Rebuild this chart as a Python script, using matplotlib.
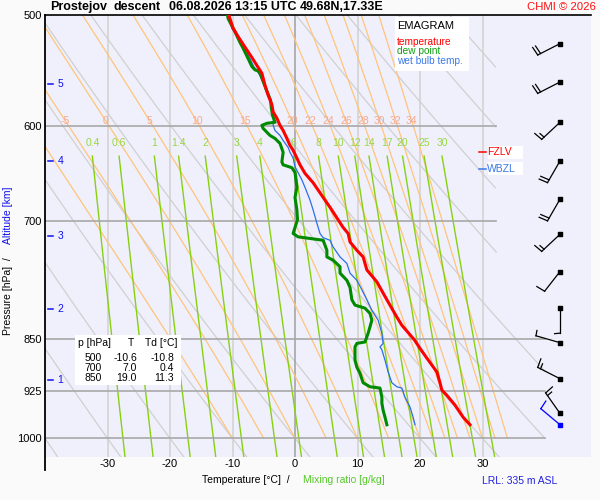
import numpy as np
import matplotlib
matplotlib.use('Agg')
import matplotlib.pyplot as plt
from matplotlib.patches import Rectangle
from matplotlib.lines import Line2D

plt.rcParams['font.family'] = ['Liberation Sans', 'DejaVu Sans']

# sounding (p in hPa, values in degC)
temp_p = [500, 511, 518, 527, 536, 543, 550, 561, 570, 579, 586, 592, 599, 604, 612, 619, 624, 632, 639, 648,
          658, 674, 685, 697, 708, 715, 725, 735, 743, 759, 774, 797, 820, 831, 851, 863, 877, 897, 913, 924,
          932, 947, 966, 978]
temp_t = [-10.6, -9.9, -9.1, -8.0, -6.9, -6.1, -5.3, -4.8, -4.3, -3.7, -3.5, -2.9, -2.4, -1.9, -1.3, -0.8, -0.3, 0.3, 0.8, 1.6,
          2.9, 4.5, 5.6, 6.7, 7.7, 8.5, 8.8, 9.9, 10.9, 11.5, 13.1, 14.7, 16.3, 17.1, 19.1, 20.0, 21.1, 22.7, 23.2, 23.5,
          24.3, 25.6, 26.9, 28.0]

dew_p = [500, 503, 514, 523, 528, 537, 544, 547, 548, 551, 556, 565, 575, 582, 589, 596, 597, 599, 602, 609,
         612, 617, 626, 636, 639, 642, 647, 663, 674, 688, 699, 715, 719, 723, 735, 743, 747, 755, 763, 772,
         781, 797, 804, 808, 815, 824, 833, 842, 854, 856, 861, 880, 890, 899, 913, 919, 921, 935, 944, 955,
         966, 978]
dew_t = [-10.8, -10.7, -9.6, -8.8, -8.3, -7.5, -6.9, -6.4, -5.9, -5.5, -5.2, -4.6, -3.9, -3.8, -3.6, -3.2, -4.5, -5.3, -5.1, -4.0,
         -3.2, -2.4, -1.9, -2.1, -1.9, -0.5, 0.0, 0.3, 0.0, 0.3, 0.4, -0.3, 0.5, 4.5, 5.1, 5.1, 6.1, 7.2, 7.2, 8.3,
         8.8, 9.1, 9.6, 11.2, 12.0, 12.3, 12.0, 11.7, 11.2, 9.9, 9.6, 9.6, 9.9, 10.4, 10.9, 12.0, 13.6, 13.9, 13.9, 14.1,
         14.4, 14.7]

wet_p = [500, 511, 519, 527, 537, 544, 549, 556, 565, 575, 582, 589, 599, 604, 609, 614, 621, 626, 632, 641,
         655, 663, 677, 688, 703, 715, 720, 723, 731, 743, 751, 763, 772, 784, 797, 811, 824, 842, 856, 861,
         865, 880, 897, 913, 919, 921, 935, 950, 966, 978]
wet_t = [-10.7, -10.1, -9.1, -8.2, -7.2, -6.6, -5.9, -5.3, -4.6, -4.0, -3.7, -3.4, -3.5, -3.2, -2.4, -1.9, -1.1, -0.8, -0.3, 0.0,
         1.1, 1.6, 2.4, 2.9, 3.5, 4.0, 4.5, 5.6, 6.1, 7.2, 8.3, 8.8, 9.9, 10.7, 11.5, 12.3, 13.3, 13.9, 14.1, 13.6,
         13.9, 14.4, 14.9, 15.5, 16.3, 17.1, 17.6, 18.4, 18.9, 19.2]

table_p = [500, 700, 850]
table_t = [-10.6, 7.0, 19.0]
table_td = [-10.8, 0.4, 11.3]

wind_p = [524, 558, 596, 635, 676, 716, 761, 808, 855, 907, 960]
wind_dir = [243, 243, 227, 210, 210, 227, 218, 180, 286, 297, 325]
wind_spd = [20, 20, 15, 20, 20, 15, 10, 5, 5, 15, 15]
sfc_p = 978
sfc_dir = 310
sfc_spd = 10

alt_km = [1, 2, 3, 4, 5]
alt_p = [909, 809, 718, 635, 560]

fzlv_p = 626
wbzl_p = 643

# diagram lines
isobars = [600, 700, 850, 925, 1000]
isotherms = [-30, -20, -10, 0, 10, 20, 30]
theta_c = list(range(-40, 101, 10))
thetaw_c = [-10, -5, 0, 5, 10, 15, 20, 22, 24, 26, 28, 30, 32, 34]
mix_w = [0.4, 0.6, 1, 1.4, 2, 3, 4, 6, 8, 10, 12, 14, 17, 20, 25, 30]
mix_lab = ['0.4', '0.6', '1', '1.4', '2', '3', '4', '6', '8', '10', '12', '14', '17', '20', '25', '30']

P_TOP, P_BOT = 500, 1031
T_MIN, T_MAX = -40, 47.36


def right_edge(p):
    return np.where(p < 820, 32.2, 40.0)


def clip_right(t, p):
    t = np.array(t, dtype=float)
    t[t > right_edge(p)] = np.nan
    return t


def lapse(T, p):
    es = 6.112 * np.exp(17.67 * (T - 273.15) / (T - 29.65))
    rs = 0.622 * es / (p - es)
    Lv = 2.501e6
    return (287.04 * T + Lv * rs) / (p * (1005.7 + Lv * Lv * rs * 0.622 / (287.04 * T * T)))


def moist_adiabat(thw, p):
    T = thw + 273.15
    out = [T]
    for p0, p1 in zip(p[:-1], p[1:]):
        h = p1 - p0
        k1 = lapse(T, p0)
        k2 = lapse(T + 0.5 * h * k1, p0 + 0.5 * h)
        k3 = lapse(T + 0.5 * h * k2, p0 + 0.5 * h)
        k4 = lapse(T + h * k3, p1)
        T = T + h * (k1 + 2 * k2 + 2 * k3 + k4) / 6
        out.append(T)
    return np.array(out) - 273.15


def wind_barb(ax, x, p, direction, speed, color):
    # staff points to where the wind comes from, barbs on the clockwise side (pixel units)
    base = ax.transData.transform((x, p))
    a = np.radians(direction)
    s = np.array([np.sin(a), np.cos(a)])
    n = np.array([s[1], -s[0]])
    L, h, gap = 25, 9, 3.2
    end = base + L * s
    segs = [(base, end)]
    full = int(speed // 10)
    for k in range(full):
        st = end - k * gap * s
        segs.append((st, st + h * n + 0.12 * h * s))
    if speed % 10 >= 5:
        st = end - full * gap * s
        segs.append((st, st + 0.6 * h * n + 0.06 * h * s))
    inv = ax.transData.inverted()
    for a0, a1 in segs:
        pts = inv.transform(np.array([a0, a1]))
        ax.plot(pts[:, 0], pts[:, 1], color=color, lw=0.9, zorder=8, clip_on=False)
    ax.scatter([x], [p], marker='s', s=5, color=color, zorder=9)


def fx(x):
    return x / 600


def fy(y):
    return 1 - y / 500


fig = plt.figure(figsize=(6, 5), dpi=100, facecolor='#fafafa')
ax = fig.add_axes([45 / 600, 43 / 500, 546 / 600, 442 / 500])
ax.set_facecolor('#f0f0fc')
ax.set_yscale('log')
ax.set_xlim(T_MIN, T_MAX)
ax.set_ylim(P_BOT, P_TOP)

# isotherms
for t in isotherms:
    if t == 0:
        ax.plot([t, t], [P_BOT, P_TOP], color='#a0a0a0', lw=1.1, zorder=1.2)
    else:
        ax.plot([t, t], [P_BOT, P_TOP], color='#d6d6d6', lw=1.3, zorder=1)

# dry adiabats
pp = np.geomspace(P_TOP, P_BOT, 400)
for th in theta_c:
    t = (th + 273.15) * (pp / 1000) ** 0.2857 - 273.15
    ax.plot(clip_right(t, pp), pp, color='#d0d0d0', lw=0.9, zorder=1.1)

# saturated adiabats
pm = np.linspace(1000, P_TOP, 300)
lab_p = 594.8
for thw in thetaw_c:
    t = moist_adiabat(thw, pm)
    ax.plot(clip_right(t, pm), pm, color='#ffc47a', lw=0.9, zorder=1.3)
    if thw >= -5:
        tl = np.interp(lab_p, pm[::-1], t[::-1])
        ax.text(tl, lab_p, str(thw), color='#f7a88c', fontsize=7.5, ha='center', va='center', zorder=3)

# mixing ratio lines
pw = np.geomspace(630, P_BOT, 200)
for w, lab in zip(mix_w, mix_lab):
    e = w * pw / (622 + w)
    le = np.log(e / 6.112)
    t = 243.5 * le / (17.67 - le)
    ax.plot(clip_right(t, pw), pw, color='#88d010', lw=1.0, zorder=1.4)
    ax.text(t[0], 616.6, lab, color='#9ad640', fontsize=7.5, ha='center', va='center', zorder=3)

# isobars
for p in isobars:
    ax.plot([T_MIN, float(right_edge(np.array(p)))], [p, p], color='#a8a8a8', lw=1.2, zorder=2)

# profiles
ax.plot(wet_t, wet_p, color='#2a6ee8', lw=0.9, zorder=5)
ax.plot(dew_t, dew_p, color='#008a00', lw=2.2, zorder=6)
ax.plot(temp_t, temp_p, color='#ff0000', lw=2.2, zorder=7)

# wind barbs
bx = 42.4
for p, dd, sp in zip(wind_p, wind_dir, wind_spd):
    wind_barb(ax, bx, p, dd, sp, 'black')
wind_barb(ax, bx, sfc_p, sfc_dir, sfc_spd, '#0000ff')

# altitude marks
for km, p in zip(alt_km, alt_p):
    ax.plot([-39.6, -38.7], [p, p], color='#1010ee', lw=1.1, zorder=4)
    ax.text(-38.0, p, str(km), color='#1010ee', fontsize=7.5, ha='left', va='center', zorder=4)

# freezing level labels
for p, lab, col in [(fzlv_p, 'FZLV', '#ff0000'), (wbzl_p, 'WBZL', '#3a78e8')]:
    ax.add_patch(Rectangle((30.9, p * 0.989), 5.6, p * 0.022, facecolor='white', edgecolor='none', zorder=4))
    ax.plot([29.4, 30.5], [p, p], color=col, lw=1.1, zorder=5)
    ax.text(30.7, p, lab, color=col, fontsize=7.5, ha='left', va='center', zorder=5)

ax.set_xticks(isotherms, labels=[str(t) for t in isotherms])
ax.set_yticks([500, 600, 700, 850, 925, 1000], labels=['500', '600', '700', '850', '925', '1000'])
ax.yaxis.set_minor_locator(matplotlib.ticker.NullLocator())
ax.tick_params(length=0, labelsize=8)
ax.tick_params(axis='x', pad=1.5)
ax.tick_params(axis='y', pad=2.5)
for s in ['left', 'right', 'bottom']:
    ax.spines[s].set_visible(False)
ax.spines['top'].set_color('black')
ax.spines['top'].set_linewidth(1.2)
fig.add_artist(Line2D([fx(45), fx(45)], [fy(15), fy(470)], color='black', lw=1.3))

# legend box
fig.add_artist(Rectangle((fx(395), fy(71)), 74 / 600, 54 / 500, facecolor='white', edgecolor='none', zorder=4))
fig.text(fx(397), fy(26), 'EMAGRAM', fontsize=8, color='black', va='center', zorder=5)
fig.text(fx(397), fy(42), 'temperature', fontsize=7.3, color='#ff0000', va='center', zorder=5)
fig.text(fx(397), fy(51.5), 'dew point', fontsize=7.3, color='#10a010', va='center', zorder=5)
fig.text(fx(397), fy(61), 'wet bulb temp.', fontsize=7.3, color='#3a78e8', va='center', zorder=5)

# table box
fig.add_artist(Rectangle((fx(75), fy(385)), 106 / 600, 50 / 500, facecolor='white', edgecolor='none', zorder=4))
fig.text(fx(78), fy(343), 'p [hPa]', fontsize=7.5, va='center', zorder=5)
fig.text(fx(131), fy(343), 'T', fontsize=7.5, ha='center', va='center', zorder=5)
fig.text(fx(145), fy(343), 'Td [°C]', fontsize=7.5, va='center', zorder=5)
for i, (p, t, td) in enumerate(zip(table_p, table_t, table_td)):
    yy = 358 + 10 * i
    fig.text(fx(102), fy(yy), f'{p}', fontsize=7.5, ha='right', va='center', zorder=5)
    fig.text(fx(137), fy(yy), f'{t:.1f}', fontsize=7.5, ha='right', va='center', zorder=5)
    fig.text(fx(174), fy(yy), f'{td:.1f}', fontsize=7.5, ha='right', va='center', zorder=5)

# title
fig.text(fx(50), fy(7), 'Prostejov', fontsize=9, fontweight='bold', va='center')
fig.text(fx(114), fy(7), 'descent', fontsize=9, fontweight='bold', va='center')
fig.text(fx(169), fy(7), '06.08.2026 13:15 UTC', fontsize=9, fontweight='bold', va='center')
fig.text(fx(300), fy(7), '49.68N,17.33E', fontsize=9, fontweight='bold', va='center')
fig.text(fx(596), fy(7), 'CHMI © 2026', fontsize=8.2, color='#ff1010', ha='right', va='center')

# axis labels
fig.text(fx(290), fy(480), 'Temperature [°C]  /', fontsize=7.5, ha='right', va='center')
fig.text(fx(303), fy(480), 'Mixing ratio [g/kg]', fontsize=7.5, color='#55c82a', ha='left', va='center')
fig.text(fx(482), fy(481), 'LRL: 335 m ASL', fontsize=7.5, color='#2222dd', ha='left', va='center')
fig.text(fx(8), fy(335), 'Pressure [hPa]  /', fontsize=7.5, rotation=90, ha='center', va='bottom')
fig.text(fx(8), fy(244), 'Altitude [km]', fontsize=7.5, rotation=90, ha='center', va='bottom', color='#1010ee')

fig.savefig('out.png', dpi=100, facecolor=fig.get_facecolor())
